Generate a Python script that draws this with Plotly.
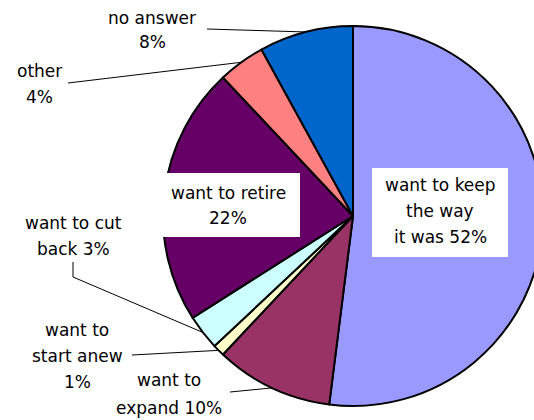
import math
import plotly.graph_objects as go

# ---- data ----
labels = ["want to keep the way it was", "want to expand", "want to start anew",
          "want to cut back", "want to retire", "other", "no answer"]
values = [52, 10, 1, 3, 22, 4, 8]
colors = ["#9999FF", "#993366", "#FFFFCC", "#CCFFFF", "#660066", "#FF8080", "#0066CC"]
label_lines = [
    ["want to keep", "the way", "it was {p}%"],
    ["want to", "expand {p}%"],
    ["want to", "start anew", "{p}%"],
    ["want to cut", "back {p}%"],
    ["want to retire", "{p}%"],
    ["other", "{p}%"],
    ["no answer", "{p}%"],
]

# ---- layout (pixels) ----
W, H = 545, 420
CX, CY, R = 353, 216, 190
FONT = dict(family="DejaVu Sans", size=17, color="black")

# label first-line centre (x, y) and line spacing
label_pos = [(440, 185, 26), (169, 380, 28), (77, 330, 26), (73, 223, 26),
             (228, 193, 25), (39, 71, 26), (152, 18, 24)]
# white boxes behind inside labels (x0, y0, x1, y1) or None
label_box = [(372, 168, 508, 257), None, None, None, (156, 173, 300, 237), None, None]
# leader line start points (None = no leader)
leader_start = [None, [(230, 392)], [(132, 355)], [(73, 262), (73, 277)], None,
                [(68, 83)], [(207, 29)]]


def px(x):
    return x / W


def py(y):
    return 1 - y / H


fig = go.Figure(go.Pie(
    labels=labels, values=values, sort=False, direction="clockwise", rotation=0,
    marker=dict(colors=colors, line=dict(color="black", width=2)),
    textinfo="none", hoverinfo="label+percent", showlegend=False,
    domain=dict(x=[px(CX - R), px(CX + R)], y=[py(CY + R), py(CY - R)]),
))

total = sum(values)
cum = 0
shapes = []
annotations = []
for i, v in enumerate(values):
    mid = (cum + v / 2) / total * 2 * math.pi
    cum += v
    ex = CX + R * math.sin(mid)
    ey = CY - R * math.cos(mid)
    if leader_start[i]:
        pts = leader_start[i] + [(ex, ey)]
        path = "M " + " L ".join(f"{px(a)},{py(b)}" for a, b in pts)
        shapes.append(dict(type="path", xref="paper", yref="paper", path=path,
                           line=dict(color="black", width=1), layer="above"))
    if label_box[i]:
        x0, y0, x1, y1 = label_box[i]
        shapes.append(dict(type="rect", xref="paper", yref="paper",
                           x0=px(x0), x1=px(x1), y0=py(y1), y1=py(y0),
                           fillcolor="white", line=dict(width=0), layer="above"))
    lx, ly, sp = label_pos[i]
    for j, line in enumerate(label_lines[i]):
        annotations.append(dict(text=line.format(p=v), x=px(lx), y=py(ly + j * sp),
                                xref="paper", yref="paper", xanchor="center",
                                yanchor="middle", showarrow=False, font=FONT))

fig.update_layout(
    width=W, height=H, margin=dict(l=0, r=0, t=0, b=0),
    paper_bgcolor="white", plot_bgcolor="white",
    shapes=shapes, annotations=annotations,
)

fig.write_html("out.html", config={"displayModeBar": False, "responsive": False},
               post_script="document.body.style.margin='0';document.body.style.overflow='hidden';")
